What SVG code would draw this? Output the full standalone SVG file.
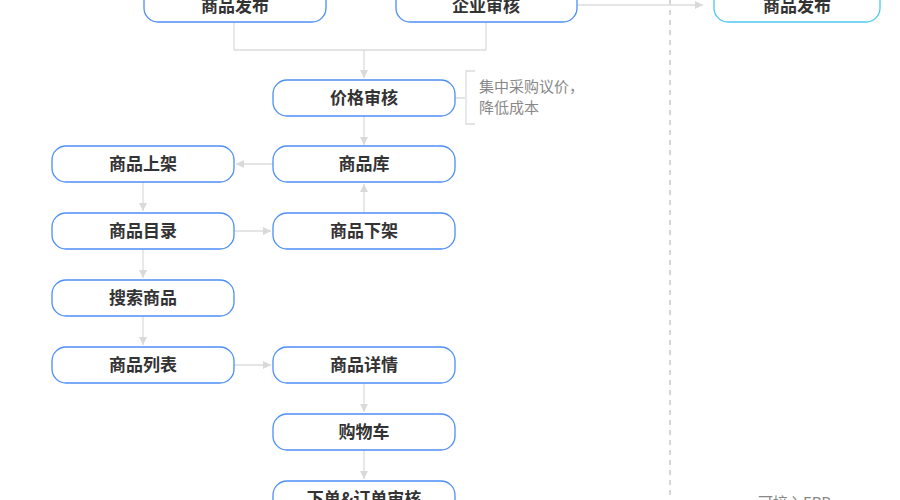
<svg xmlns="http://www.w3.org/2000/svg" width="900" height="500" viewBox="0 0 900 500">
<defs>
<marker id="a" viewBox="0 0 10 10" refX="10" refY="5" markerWidth="8" markerHeight="8" orient="auto" markerUnits="userSpaceOnUse"><path d="M0,0L10,5L0,10z" fill="#d9d9d9"/></marker>
<style>
.n rect{fill:#fff;stroke:#4d8ef7;stroke-width:1.3}
.n text{font-family:"Noto Sans CJK SC",sans-serif;font-size:17px;font-weight:bold;fill:#333;text-anchor:middle}
.c path{fill:none;stroke:#dcdcdc;stroke-width:1.3}
.note{font-family:"Noto Sans CJK SC",sans-serif;font-size:15px;fill:#888}
</style>
</defs>
<rect width="900" height="500" fill="#fff"/>
<line x1="670" y1="0" x2="670" y2="500" stroke="#aaa" stroke-dasharray="5,5"/>
<g class="c">
<path d="M234,22V50H486V22"/>
<path d="M364,50V78" marker-end="url(#a)"/>
<path d="M577,5H703" marker-end="url(#a)"/>
<path d="M364,116V145" marker-end="url(#a)"/>
<path d="M273,164H236" marker-end="url(#a)"/>
<path d="M143,182V211" marker-end="url(#a)"/>
<path d="M234,231H271" marker-end="url(#a)"/>
<path d="M364,213V184" marker-end="url(#a)"/>
<path d="M143,249V278" marker-end="url(#a)"/>
<path d="M143,316V345" marker-end="url(#a)"/>
<path d="M234,365H271" marker-end="url(#a)"/>
<path d="M364,383V412" marker-end="url(#a)"/>
<path d="M364,450V479" marker-end="url(#a)"/>
<path d="M455,98H465M475,71H466V124H475" stroke="#ddd"/>
</g>
<text class="note" x="479" y="92">集中采购议价，</text>
<text class="note" x="479" y="113">降低成本</text>
<g id="n1" class="n"><rect x="144" y="-14" width="182" height="36" rx="14"/><text x="235" y="12">商品发布</text></g>
<g id="n2" class="n"><rect x="396" y="-14" width="181" height="36" rx="14"/><text x="486" y="12">企业审核</text></g>
<g id="n3" class="n"><rect x="714" y="-14" width="166" height="36" rx="14" style="stroke:#4ec8f0"/><text x="797" y="12">商品发布</text></g>
<g id="n4" class="n"><rect x="273" y="80" width="182" height="36" rx="14"/><text x="364" y="104">价格审核</text></g>
<g id="n5" class="n"><rect x="273" y="146" width="182" height="36" rx="14"/><text x="364" y="170">商品库</text></g>
<g id="n6" class="n"><rect x="52" y="146" width="182" height="36" rx="14"/><text x="143" y="170">商品上架</text></g>
<g id="n7" class="n"><rect x="52" y="213" width="182" height="36" rx="14"/><text x="143" y="237">商品目录</text></g>
<g id="n8" class="n"><rect x="273" y="213" width="182" height="36" rx="14"/><text x="364" y="237">商品下架</text></g>
<g id="n9" class="n"><rect x="52" y="280" width="182" height="36" rx="14"/><text x="143" y="304">搜索商品</text></g>
<g id="n10" class="n"><rect x="52" y="347" width="182" height="36" rx="14"/><text x="143" y="371">商品列表</text></g>
<g id="n11" class="n"><rect x="273" y="347" width="182" height="36" rx="14"/><text x="364" y="371">商品详情</text></g>
<g id="n12" class="n"><rect x="273" y="414" width="182" height="36" rx="14"/><text x="364" y="438">购物车</text></g>
<g id="n13" class="n"><rect x="273" y="481" width="182" height="36" rx="14"/><text x="364" y="505">下单&amp;订单审核</text></g>
<text class="note" x="758" y="508">可接入ERP</text>
</svg>
